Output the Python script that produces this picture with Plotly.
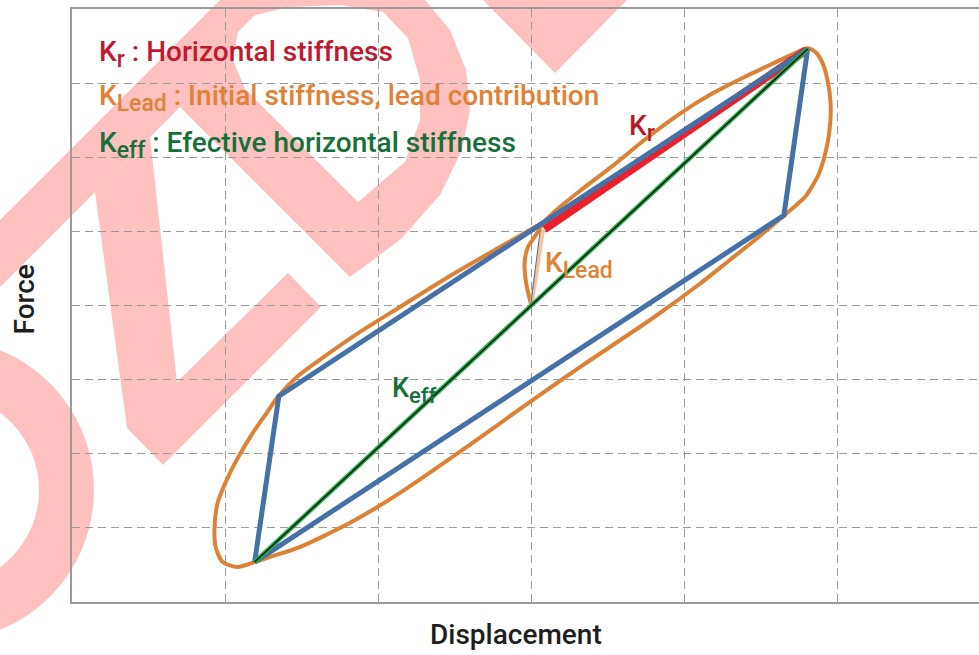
import numpy as np
import plotly.graph_objects as go

# ---------------- data (units = grid divisions, origin at the loop centre) ----------------
loop_disp = [0.000, -0.033, -0.044, -0.022, 0.022, 0.087, 0.185, 0.315, 0.531, 0.753,
             0.969, 1.184, 1.406, 1.622, 1.733, 1.805, 1.857, 1.903, 1.935, 1.955,
             1.948, 1.922, 1.877, 1.792, 1.668, 1.491, 1.295, 1.099, 0.792, 0.315, -0.011,
             -0.423, -0.860, -1.187, -1.513, -1.709, -1.807, -1.918, -2.016, -2.062, -2.069,
             -2.049, -1.990, -1.925, -1.820, -1.729, -1.657, -1.533, -1.402, -1.121, -0.860,
             -0.534, -0.207, 0.067]
loop_force = [0.000, 0.297, 0.566, 0.790, 0.925, 1.137, 1.326, 1.542, 1.884, 2.256,
              2.586, 2.862, 3.097, 3.307, 3.415, 3.469, 3.415, 3.267, 3.038, 2.728,
              2.364, 2.067, 1.770, 1.474, 1.244, 0.934, 0.611, 0.290, -0.172, -0.835, -1.304,
              -1.910, -2.531, -2.935, -3.259, -3.394, -3.461, -3.528, -3.461, -3.259, -2.989,
              -2.666, -2.355, -2.086, -1.722, -1.452, -1.236, -0.967, -0.764, -0.360, -0.023,
              0.395, 0.786, 1.110]

bilinear_disp = [-1.807, -1.649, 1.805, 1.650, -1.807]
bilinear_force = [-3.461, -1.223, 3.460, 1.218, -3.461]

keff_disp = [-1.807, 1.805]
keff_force = [-3.461, 3.460]

kr_disp = [0.087, 1.797]
kr_force = [1.029, 3.445]

klead_disp = [0.000, 0.077]
klead_force = [0.000, 1.030]
klead_thin_disp = [-0.003, 0.058]
klead_thin_force = [0.017, 1.010]

legend_texts = ["K<sub><span style='font-size:23px'>r</span></sub> : Horizontal stiffness",
                "K<sub><span style='font-size:23px'>Lead</span></sub> : Initial stiffness, lead contribution",
                "K<sub><span style='font-size:23px'>eff</span></sub> : Efective horizontal stiffness"]
legend_colors = ["#c0192d", "#df8236", "#15703a"]

x_title = "Displacement"
y_title = "Force"

# ---------------- layout geometry ----------------
W, H = 979, 655
ML, MR, MT, MB = 72, 0, 9, 53
PW, PH = W - ML - MR, H - MT - MB
X_RANGE = [-3.0, -3.0 + PW / 153.1]
Y_RANGE = [-4.0, 4.0]
FONT = "Roboto"

def paper(px, py):
    return (px - ML) / PW, (MT + PH - py) / PH

def path_from(points, close=True):
    pts = [paper(x, y) for x, y in points]
    s = "M " + " L ".join(f"{a:.5f},{b:.5f}" for a, b in pts)
    return s + (" Z" if close else "")

# ---------------- watermark (decorative, pixel outline) ----------------
wm_band = [(0, 220), (220, 0), (287, 0), (0, 287)]
wm_check = [(95, 192), (150, 137), (177, 382), (288, 273), (321, 307), (163, 465), (127, 428)]
wm_d_outer = [(350, 277), (180, 107), (287, 0), (425, 0), (450, 30), (466, 70), (470, 110),
              (462, 150), (440, 195), (400, 240)]
wm_d_hole = [(358, 202), (245, 89), (233, 60), (238, 32), (255, 15), (290, 7), (340, 5),
             (383, 12), (408, 38), (420, 80), (420, 120), (405, 162)]
wm_tri = [(483, 0), (627, 0), (555, 73)]
ring_c, ring_r_out, ring_r_in = (-57, 490), 151, 96

PINK = "#ffc0c0"
shapes = []
for poly in (wm_band, wm_check, wm_d_outer, wm_tri):
    shapes.append(dict(type="path", xref="paper", yref="paper", path=path_from(poly),
                       fillcolor=PINK, line=dict(width=0), layer="below"))
shapes.append(dict(type="path", xref="paper", yref="paper", path=path_from(wm_d_hole),
                   fillcolor="white", line=dict(width=0), layer="below"))
t = np.linspace(0, 2 * np.pi, 90, endpoint=False)
outer = [(ring_c[0] + ring_r_out * np.cos(a), ring_c[1] + ring_r_out * np.sin(a)) for a in t]
inner = [(ring_c[0] + ring_r_in * np.cos(a), ring_c[1] + ring_r_in * np.sin(a)) for a in t[::-1]]
shapes.append(dict(type="path", xref="paper", yref="paper",
                   path=path_from(outer) + " " + path_from(inner),
                   fillcolor=PINK, line=dict(width=0), layer="below", fillrule="evenodd"))

# ---------------- traces ----------------
fig = go.Figure()
fig.add_trace(go.Scatter(x=loop_disp, y=loop_force, mode="lines",
                         line=dict(color="#dd8234", width=4, shape="spline", smoothing=0.7)))
fig.add_trace(go.Scatter(x=kr_disp, y=kr_force, mode="lines",
                         line=dict(color="#ec2028", width=8)))
fig.add_trace(go.Scatter(x=bilinear_disp, y=bilinear_force, mode="lines",
                         line=dict(color="#4570a8", width=5)))
fig.add_trace(go.Scatter(x=klead_disp, y=klead_force, mode="lines",
                         line=dict(color="#f7c394", width=4)))
fig.add_trace(go.Scatter(x=klead_thin_disp, y=klead_thin_force, mode="lines",
                         line=dict(color="#4570a8", width=1)))
fig.add_trace(go.Scatter(x=keff_disp, y=keff_force, mode="lines",
                         line=dict(color="#1fb24a", width=4.5)))
fig.add_trace(go.Scatter(x=keff_disp, y=keff_force, mode="lines",
                         line=dict(color="#111111", width=1.5)))

# ---------------- annotations ----------------
def ann(text, px, py, size, color, xanchor="left", yanchor="middle", angle=0, weight=500):
    x, y = paper(px, py)
    return dict(text=text, x=x, y=y, xref="paper", yref="paper", showarrow=False,
                xanchor=xanchor, yanchor=yanchor, textangle=angle,
                font=dict(family=FONT, size=size, color=color, weight=weight))

annotations = []
for txt, col, yy in zip(legend_texts, legend_colors, [54, 98, 145]):
    annotations.append(ann(txt, 97, yy, 28, col))
annotations.append(ann("K<sub><span style='font-size:23px'>r</span></sub>", 627, 128, 28, "#b81a2c"))
annotations.append(ann("K<sub><span style='font-size:23px'>Lead</span></sub>", 543, 265, 28, "#df8236"))
annotations.append(ann("K<sub><span style='font-size:22px'>eff</span></sub>", 390, 390, 27, "#15703a"))
annotations.append(ann(x_title, 516, 634, 28, "#1e1e1e", xanchor="center"))
annotations.append(ann(y_title, 23.5, 300, 28, "#1e1e1e", xanchor="center", angle=-90))

axis_common = dict(showticklabels=False, ticks="", zeroline=False, showgrid=True,
                   gridcolor="#9a9a9a", gridwidth=1.3, griddash="8px,5px", dtick=1, tick0=0,
                   showline=True, linecolor="#9a9a9a", linewidth=1.6, fixedrange=True)

fig.update_layout(
    width=W, height=H,
    margin=dict(l=ML, r=MR, t=MT, b=MB, pad=0),
    paper_bgcolor="white", plot_bgcolor="rgba(0,0,0,0)",
    showlegend=False,
    xaxis=dict(range=X_RANGE, mirror=True, **axis_common),
    yaxis=dict(range=Y_RANGE, mirror=False, **axis_common),
    shapes=shapes,
    annotations=annotations,
)

fig.write_html("out.html", config={"displayModeBar": False},
               post_script="document.body.style.margin='0';document.body.style.overflow='hidden';")
